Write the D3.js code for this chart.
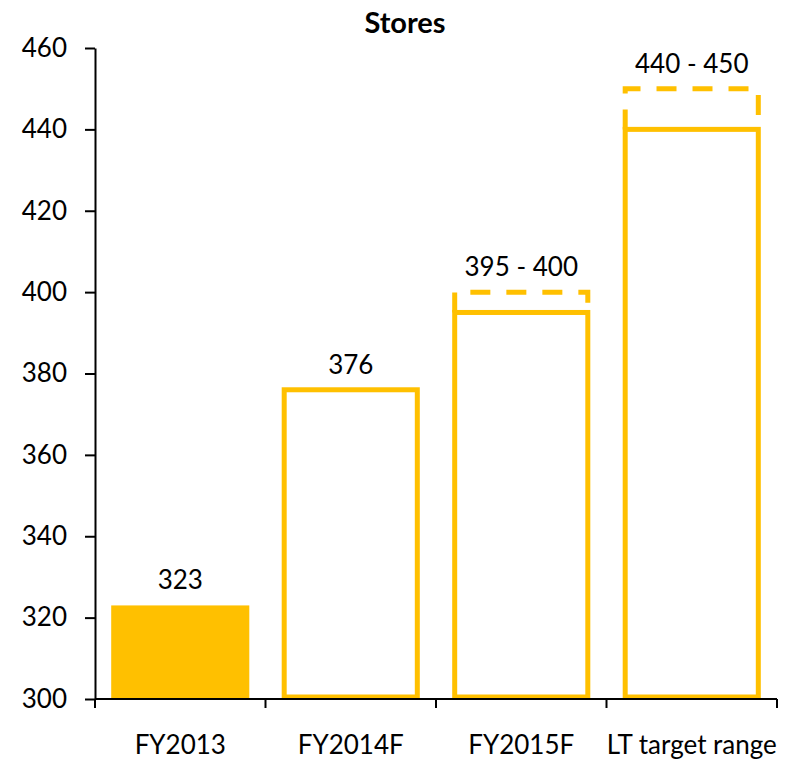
<!DOCTYPE html>
<html>
<head>
<meta charset="utf-8">
<script src="https://cdn.jsdelivr.net/npm/d3@7"></script>
<style>
  body { margin: 0; background: #fff; }
  text { font-family: Lato, 'Open Sans', sans-serif; fill: #000; }
</style>
</head>
<body>
<div id="chart"></div>
<script>
const categories = ['FY2013', 'FY2014F', 'FY2015F', 'LT target range']
const lowValues  = [323, 376, 395, 440]
const highValues = [323, 376, 400, 450]
const labels     = ['323', '376', '395 - 400', '440 - 450']
const filled     = [true, false, false, false]
const yTicks     = [300, 320, 340, 360, 380, 400, 420, 440, 460]

const gold = '#FFC000'
var margin = {top: 48, right: 21, bottom: 61, left: 95}
var width  = 798 - margin.left - margin.right
var height = 760 - margin.top - margin.bottom

var svg = d3.select('#chart')
  .append('svg').attr('width', 798).attr('height', 760)

svg.append('text')
  .attr('x', 405).attr('y', 33)
  .attr('text-anchor', 'middle')
  .style('font-weight', 'bold').style('font-size', '29px')
  .text('Stores')

var g = svg.append('g').attr('transform', 'translate(' + margin.left + ',' + margin.top + ')')

var x = d3.scaleBand().domain(categories).range([0, width]).paddingInner(0.19).paddingOuter(0.095)
var y = d3.scaleLinear().domain([300, 460]).range([height, 0])

// bars
categories.forEach(function(c, i) {
  var x0 = x(c), bw = x.bandwidth()
  if (filled[i]) {
    g.append('rect')
      .attr('x', x0).attr('y', y(lowValues[i]))
      .attr('width', bw).attr('height', y(300) - y(lowValues[i]))
      .attr('fill', gold)
  } else {
    g.append('rect')
      .attr('x', x0 + 2.5).attr('y', y(lowValues[i]))
      .attr('width', bw - 5).attr('height', y(300) - y(lowValues[i]) - 2)
      .attr('fill', 'none').attr('stroke', gold).attr('stroke-width', 5)
  }
  if (highValues[i] > lowValues[i]) {
    // dashed range top
    var p = d3.path()
    p.moveTo(x0 + 2.5, y(lowValues[i]))
    p.lineTo(x0 + 2.5, y(highValues[i]))
    p.lineTo(x0 + bw - 2.5, y(highValues[i]))
    p.lineTo(x0 + bw - 2.5, y(lowValues[i]))
    g.append('path')
      .attr('d', p.toString())
      .attr('fill', 'none').attr('stroke', gold).attr('stroke-width', 5)
      .attr('stroke-dasharray', '20,16')
  }
  g.append('text')
    .attr('x', x0 + bw / 2).attr('y', y(highValues[i]) - 16)
    .attr('text-anchor', 'middle').style('font-size', '26px')
    .text(labels[i])
})

// y axis
var yAxis = g.append('g')
  .call(d3.axisLeft(y).tickValues(yTicks).tickSize(10).tickPadding(18).tickSizeOuter(0))
yAxis.selectAll('text').style('font-size', '26px').attr('fill', '#000')
yAxis.selectAll('line').attr('stroke', '#000').attr('stroke-width', 2)
yAxis.select('.domain').attr('stroke', '#000').attr('stroke-width', 2)

// x axis, ticks on category boundaries
var xAxis = g.append('g').attr('transform', 'translate(0,' + height + ')')
xAxis.append('line')
  .attr('x1', 0).attr('x2', width)
  .attr('stroke', '#000').attr('stroke-width', 2)
var bounds = categories.map(c => x(c) - x.step() * x.paddingInner() / 2)
bounds[0] = 0
bounds.push(width)
xAxis.selectAll('line.tick').data(bounds).enter().append('line')
  .attr('class', 'tick')
  .attr('x1', d => d).attr('x2', d => d)
  .attr('y1', 0).attr('y2', 9)
  .attr('stroke', '#000').attr('stroke-width', 2)
xAxis.selectAll('text').data(categories).enter().append('text')
  .attr('x', d => x(d) + x.bandwidth() / 2).attr('y', 55)
  .attr('text-anchor', 'middle').style('font-size', '26px')
  .text(d => d)
</script>
</body>
</html>
